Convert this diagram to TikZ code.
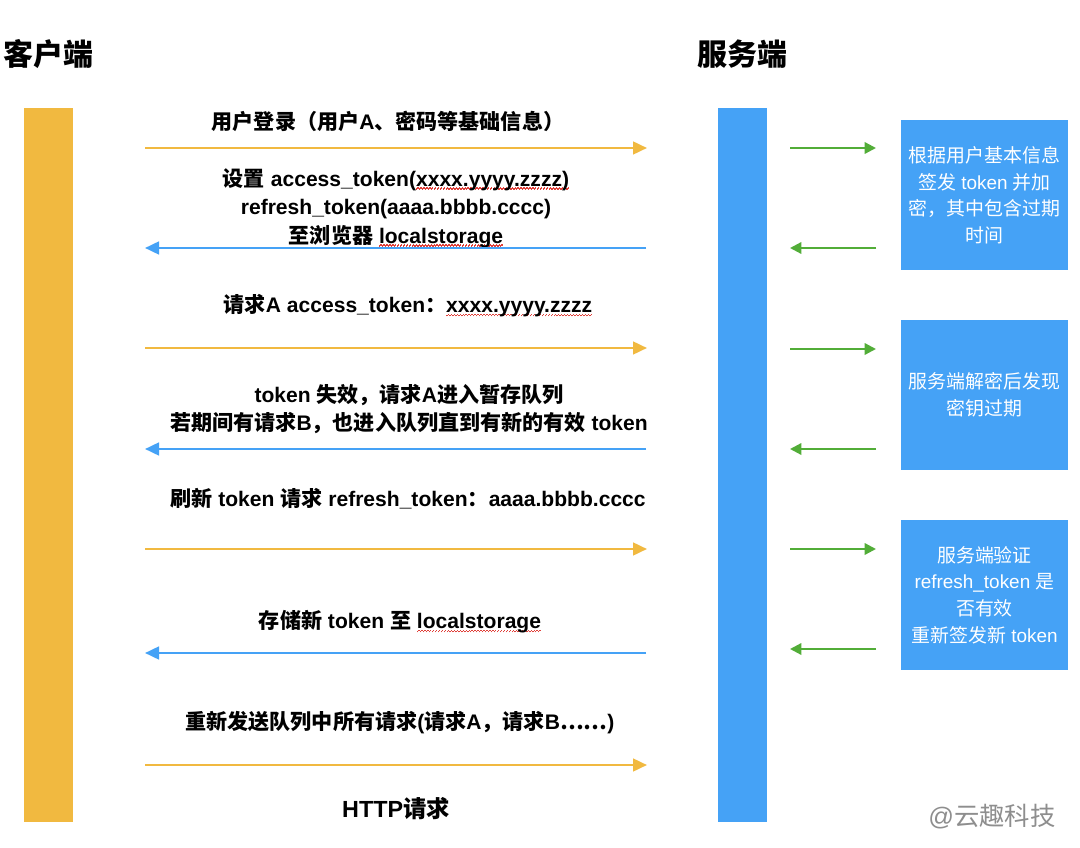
\documentclass[tikz,border=0pt]{standalone}
\usepackage{fontspec}
\setmainfont{Liberation Sans}
\newfontfamily\cjkf{Noto Sans CJK SC}
\newcommand\ZH[1]{{\cjkf #1}}
\usetikzlibrary{arrows.meta}
\definecolor{ybar}{HTML}{F1B940}
\definecolor{bbar}{HTML}{45A2F6}
\definecolor{garrow}{HTML}{52AD38}
\definecolor{sqred}{HTML}{E0403A}
\definecolor{wmgray}{HTML}{8E8E8E}
\newsavebox\sqbox
\newcommand\squig[1]{\sbox\sqbox{#1}\rlap{\raisebox{-2.6pt}{\color{sqred}\hbox to \wd\sqbox{\xleaders\hbox to 2.2pt{\rule{1pt}{1pt}\raisebox{0.7pt}{\rule{1pt}{1pt}}\hss}\hfil}}}\usebox\sqbox}
\begin{document}
\begin{tikzpicture}[x=0.75pt,y=-0.75pt,
  barst/.style={draw=none, minimum width=36.75pt, minimum height=535.5pt, inner sep=0, anchor=north west},
  sbox/.style={fill=bbar, minimum width=125.25pt, minimum height=112.5pt, inner sep=0, text=white, align=center, font=\fontsize{14.2}{19.9}\selectfont},
  lbl/.style={align=center, inner sep=0, font=\bfseries\fontsize{15.8}{21.4}\selectfont},
  ttl/.style={inner sep=0, font=\bfseries\fontsize{22.5}{27}\selectfont},
  yarr/.style={draw=ybar, line width=1.9pt, -{Triangle[length=10.5pt,width=9.5pt]}},
  barr/.style={draw=bbar, line width=1.9pt, -{Triangle[length=10.5pt,width=9.5pt]}},
  garr/.style={draw=garrow, line width=1.7pt, -{Triangle[length=8.5pt,width=8.5pt]}}
]
\useasboundingbox (0,0) rectangle (1080,848);
\fill[white] (0,0) rectangle (1080,848);

% titles
\node[ttl] (tclient) at (48,54) {\ZH{客户端}};
\node[ttl] (tserver) at (742,54) {\ZH{服务端}};

% bars
\node[barst, fill=ybar] (client) at (24,108) {};
\node[barst, fill=bbar] (server) at (718,108) {};

% server boxes
\node[sbox] (b1) at (984.5,195) {\ZH{根据用户基本信息}\\\ZH{签发} token \ZH{并加}\\\ZH{密，其中包含过期}\\\ZH{时间}};
\node[sbox] (b2) at (984.5,395) {\ZH{服务端解密后发现}\\\ZH{密钥过期}};
\node[sbox] (b3) at (984.5,595) {\ZH{服务端验证}\\refresh\_token \ZH{是}\\\ZH{否有效}\\\ZH{重新签发新} token};

% labels
\node[lbl] (l1) at (388,121) {\ZH{用户登录（用户}A\ZH{、密码等基础信息）}};
\node[lbl] (l2) at (396,208) {\ZH{设置} access\_token(\squig{xxxx.yyyy.zzzz)}\\refresh\_token(aaaa.bbbb.cccc)\\\ZH{至浏览器} \squig{localstorage}};
\node[lbl] (l3) at (408,306) {\ZH{请求}A access\_token\ZH{：}\squig{xxxx.yyyy.zzzz}};
\node[lbl] (l4) at (409,409) {token \ZH{失效，请求}A\ZH{进入暂存队列}\\\ZH{若期间有请求}B\ZH{，也进入队列直到有新的有效} token};
\node[lbl] (l5) at (408,499) {\ZH{刷新} token \ZH{请求} refresh\_token\ZH{：}aaaa.bbbb.cccc};
\node[lbl] (l6) at (400,622) {\ZH{存储新} token \ZH{至} \squig{localstorage}};
\node[lbl] (l7) at (400,723) {\ZH{重新发送队列中所有请求}(\ZH{请求}A\ZH{，请求}B\ZH{……})};
\node[inner sep=0, font=\bfseries\fontsize{17.5}{21}\selectfont] (http) at (396,809) {HTTP\ZH{请求}};

% watermark
\node[inner sep=0, text=wmgray, font=\fontsize{19}{22}\selectfont] (wm) at (992,817) {@\ZH{云趣科技}};

% main arrow end points
\coordinate (c1) at (145,148); \coordinate (s1) at (647,148);
\coordinate (s2) at (646,248); \coordinate (c2) at (145,248);
\coordinate (c3) at (145,348); \coordinate (s3) at (647,348);
\coordinate (s4) at (646,449); \coordinate (c4) at (145,449);
\coordinate (c5) at (145,549); \coordinate (s5) at (647,549);
\coordinate (s6) at (646,653); \coordinate (c6) at (145,653);
\coordinate (c7) at (145,765); \coordinate (s7) at (647,765);

\draw[yarr] (c1) -- (s1);
\draw[barr] (s2) -- (c2);
\draw[yarr] (c3) -- (s3);
\draw[barr] (s4) -- (c4);
\draw[yarr] (c5) -- (s5);
\draw[barr] (s6) -- (c6);
\draw[yarr] (c7) -- (s7);

% green arrows
\coordinate (g1a) at (790,148); \coordinate (g1b) at (876,148);
\coordinate (g2a) at (876,248); \coordinate (g2b) at (790,248);
\coordinate (g3a) at (790,349); \coordinate (g3b) at (876,349);
\coordinate (g4a) at (876,449); \coordinate (g4b) at (790,449);
\coordinate (g5a) at (790,549); \coordinate (g5b) at (876,549);
\coordinate (g6a) at (876,649); \coordinate (g6b) at (790,649);
\draw[garr] (g1a) -- (g1b);
\draw[garr] (g2a) -- (g2b);
\draw[garr] (g3a) -- (g3b);
\draw[garr] (g4a) -- (g4b);
\draw[garr] (g5a) -- (g5b);
\draw[garr] (g6a) -- (g6b);
\end{tikzpicture}
\end{document}
